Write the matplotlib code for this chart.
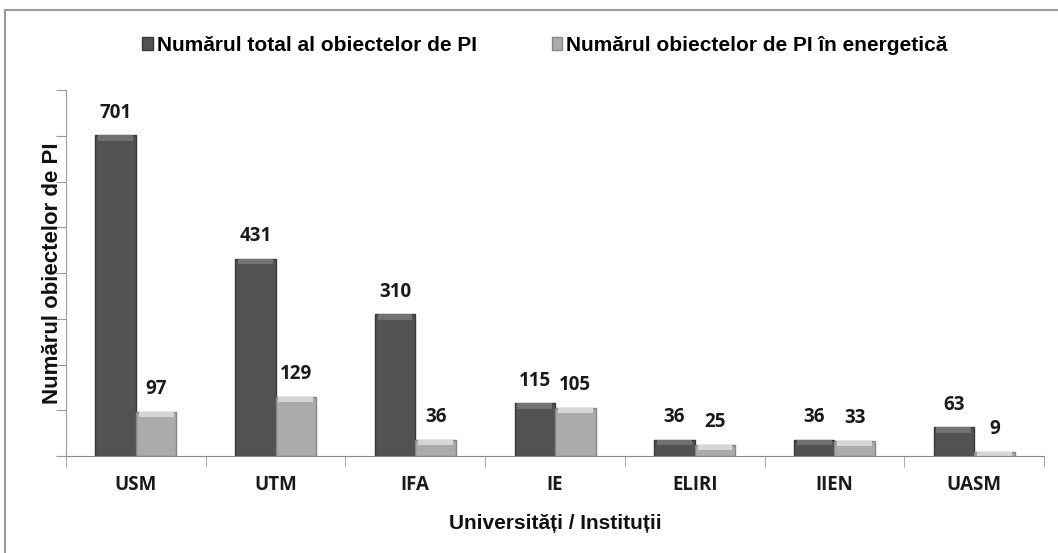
import numpy as np
import matplotlib.pyplot as plt
from matplotlib.patches import Rectangle

categories = ['USM', 'UTM', 'IFA', 'IE', 'ELIRI', 'IIEN', 'UASM']
total = [701, 431, 310, 115, 36, 36, 63]
energy = [97, 129, 36, 105, 25, 33, 9]
legend_labels = ['Numărul total al obiectelor de PI', 'Numărul obiectelor de PI în energetică']

plt.rcParams['font.family'] = ['Open Sans', 'DejaVu Sans']
arial = ['Liberation Sans', 'DejaVu Sans']

fig = plt.figure(figsize=(10.58, 5.53), dpi=100)
ax = fig.add_axes([0.0624, 0.1754, 0.9244, 0.6618])

# outer frame
fig.patches.append(Rectangle((5/1058, -0.01), 1.1, 1 - 10/553 + 0.01, transform=fig.transFigure,
                             fill=False, edgecolor='#9a9a9a', lw=1.5))

x = np.arange(len(categories))
w = 0.29
b1 = ax.bar(x - w/2, total, w, color='#525252', edgecolor='#383838', lw=1.0,
            label=legend_labels[0])
b2 = ax.bar(x + w/2, energy, w, color='#ababab', edgecolor='#858585', lw=1.0,
            label=legend_labels[1])

# bevel highlight at the top of each bar
bevel = 12
ax.bar(x - w/2, [min(v, bevel) for v in total], w * 0.86,
       bottom=[v - min(v, bevel) for v in total], color='#727272', lw=0)
ax.bar(x + w/2, [min(v, bevel) for v in energy], w * 0.86,
       bottom=[v - min(v, bevel) for v in energy], color='#d6d6d6', lw=0)

for bars, vals in ((b1, total), (b2, energy)):
    for r, v in zip(bars, vals):
        ax.annotate(str(v), (r.get_x() + r.get_width()/2, v), xytext=(0, 9),
                    textcoords='offset points', ha='center', va='bottom',
                    fontsize=13.5, fontweight='bold', color='#1a1a1a')

ax.set_xlim(-0.5, len(categories) - 0.5)
ax.set_ylim(0, 800)
ax.set_yticks(np.arange(0, 801, 100))
ax.set_yticklabels([])
ax.tick_params(axis='y', length=7, color='#9a9a9a')
ax.set_xticks(x)
ax.set_xticklabels(categories, fontsize=13.5, fontweight='bold', color='#1a1a1a')
ax.set_xticks(np.arange(-0.5, len(categories)), minor=True)
ax.tick_params(axis='x', which='major', length=0, pad=14)
ax.tick_params(axis='x', which='minor', length=8, color='#9a9a9a')

for s in ('top', 'right'):
    ax.spines[s].set_visible(False)
ax.spines['left'].set_color('#9a9a9a')
ax.spines['bottom'].set_color('#8a8a8a')

ax.set_ylabel('Numărul obiectelor de PI', fontsize=16, fontweight='bold', family=arial,
              color='#111111')
ax.yaxis.set_label_coords(-0.003, 0.5)
ax.set_xlabel('Universități / Instituții', fontsize=15, fontweight='bold', family=arial,
              labelpad=13, color='#111111')

fig.legend(loc='center', bbox_to_anchor=(0.515, 0.918), ncol=2, frameon=False,
           prop={'family': arial, 'weight': 'bold', 'size': 15},
           handlelength=0.5, handleheight=0.6, handletextpad=0.2, columnspacing=3.6)

fig.savefig('out.png', dpi=100)
